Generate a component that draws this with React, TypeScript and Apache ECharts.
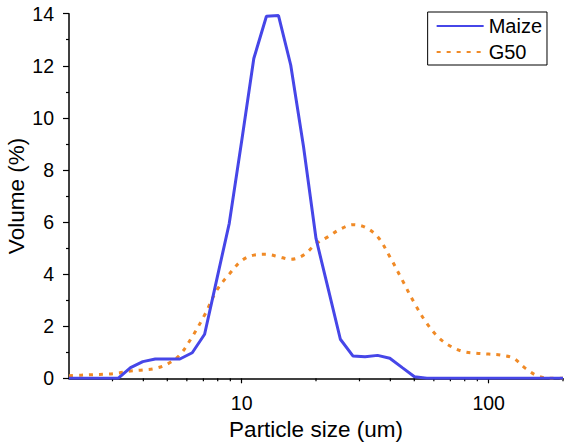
import React, { useEffect, useRef } from "react";
import * as echarts from "echarts";

// Particle size classes (um), log-spaced at 0.05 decades
const sizes = [
  2, 2.24, 2.51, 2.82, 3.16, 3.55, 3.98, 4.47, 5.01, 5.62,
  6.31, 7.08, 7.94, 8.91, 10, 11.2, 12.6, 14.1, 15.8, 17.8,
  20, 22.4, 25.1, 28.2, 31.6, 35.5, 39.8, 44.7, 50.1, 56.2,
  63.1, 70.8, 79.4, 89.1, 100, 112, 126, 141, 158, 178, 200,
];

// Volume distribution (%) per size class
const maize = [
  0, 0, 0, 0, 0, 0.41, 0.64, 0.74, 0.74, 0.74,
  0.98, 1.69, 3.82, 5.95, 9.1, 12.28, 13.9, 13.93, 12.03, 8.9,
  5.37, 3.44, 1.5, 0.86, 0.83, 0.88, 0.77, 0.41, 0.06, 0,
  0, 0, 0, 0, 0, 0, 0, 0, 0, 0, 0,
];
const g50 = [
  0.1, 0.12, 0.14, 0.16, 0.2, 0.28, 0.32, 0.38, 0.55, 0.9,
  1.6, 2.43, 3.39, 4.0, 4.52, 4.73, 4.76, 4.67, 4.57, 4.73,
  5.16, 5.44, 5.73, 5.9, 5.8, 5.44, 4.67, 3.77, 2.88, 2.11,
  1.54, 1.21, 1.02, 0.96, 0.93, 0.89, 0.77, 0.38, 0.09, 0, 0,
];

const xTickLabels = [10, 100];
const xMinorTicks = [3, 4, 5, 6, 7, 8, 9, 20, 30, 40, 50, 60, 70, 80, 90, 200];

const FONT = "Liberation Sans, Arial, sans-serif";

export default function App() {
  const ref = useRef<HTMLDivElement>(null);

  useEffect(() => {
    if (!ref.current) return;
    const chart = echarts.init(ref.current, undefined, { renderer: "svg" });
    chart.setOption({
      animation: false,
      backgroundColor: "#ffffff",
      textStyle: { fontFamily: FONT, color: "#000" },
      grid: {
        left: 69,
        right: 1,
        top: 13.7,
        bottom: 67.7,
        containLabel: false,
        outerBoundsMode: "none",
      },
      legend: {
        data: ["Maize", "G50"],
        orient: "vertical",
        right: 17,
        top: 12,
        itemWidth: 47,
        itemHeight: 14,
        itemGap: 6,
        padding: [4, 5, 3, 8],
        borderColor: "#000",
        borderWidth: 1,
        itemStyle: { opacity: 0 },
        textStyle: { fontFamily: FONT, fontSize: 20, color: "#000" },
      },
      xAxis: {
        type: "log",
        logBase: 10,
        min: 2,
        max: 200,
        name: "Particle size (um)",
        nameLocation: "middle",
        nameGap: 40,
        nameMoveOverlap: false,
        nameTextStyle: { fontFamily: FONT, fontSize: 22.5, color: "#000" },
        axisLine: { lineStyle: { color: "#000", width: 1.5 } },
        axisTick: { show: true, length: 5, lineStyle: { color: "#000", width: 1.2 } },
        axisLabel: {
          margin: 15,
          fontFamily: FONT,
          fontSize: 19.5,
          color: "#000",
          showMinLabel: false,
          showMaxLabel: false,
          formatter: (v: number) =>
            xTickLabels.some((t) => Math.abs(t - v) < 1e-6) ? String(Math.round(v)) : "",
        },
        splitLine: { show: false },
      },
      yAxis: {
        type: "value",
        min: 0,
        max: 14,
        interval: 2,
        name: "Volume (%)",
        nameLocation: "middle",
        nameGap: 41,
        nameMoveOverlap: false,
        nameTextStyle: { fontFamily: FONT, fontSize: 22.5, color: "#000" },
        axisLine: { show: true, lineStyle: { color: "#000", width: 1.5 } },
        axisTick: { show: true, length: 6, lineStyle: { color: "#000", width: 1.2 } },
        minorTick: { show: true, splitNumber: 2, length: 3, lineStyle: { color: "#000", width: 1.2 } },
        axisLabel: { margin: 15, fontFamily: FONT, fontSize: 19.5, color: "#000" },
        splitLine: { show: false },
      },
      series: [
        {
          name: "Maize",
          type: "line",
          symbol: "none",
          data: sizes.map((s, i) => [s, maize[i]]),
          lineStyle: { color: "#4646e8", width: 3 },
          itemStyle: { color: "#4646e8" },
          z: 3,
        },
        {
          name: "G50",
          type: "line",
          symbol: "none",
          smooth: 0.35,
          data: sizes.map((s, i) => [s, g50[i]]),
          lineStyle: { color: "#f08a26", width: 3, type: [4, 6] },
          itemStyle: { color: "#f08a26" },
          z: 2,
        },
        {
          // minor ticks of the logarithmic size axis
          type: "custom",
          silent: true,
          clip: false,
          data: xMinorTicks.map((v) => [v, 0]),
          renderItem: (_params: any, api: any) => {
            const p = api.coord([api.value(0), 0]);
            return {
              type: "line",
              shape: { x1: p[0], y1: p[1], x2: p[0], y2: p[1] + 3 },
              style: { stroke: "#000", lineWidth: 1.2 },
            };
          },
          z: 1,
        },
      ],
    });
    return () => chart.dispose();
  }, []);

  return <div ref={ref} style={{ width: 564, height: 446, position: "absolute", left: 0, top: 0 }} />;
}
